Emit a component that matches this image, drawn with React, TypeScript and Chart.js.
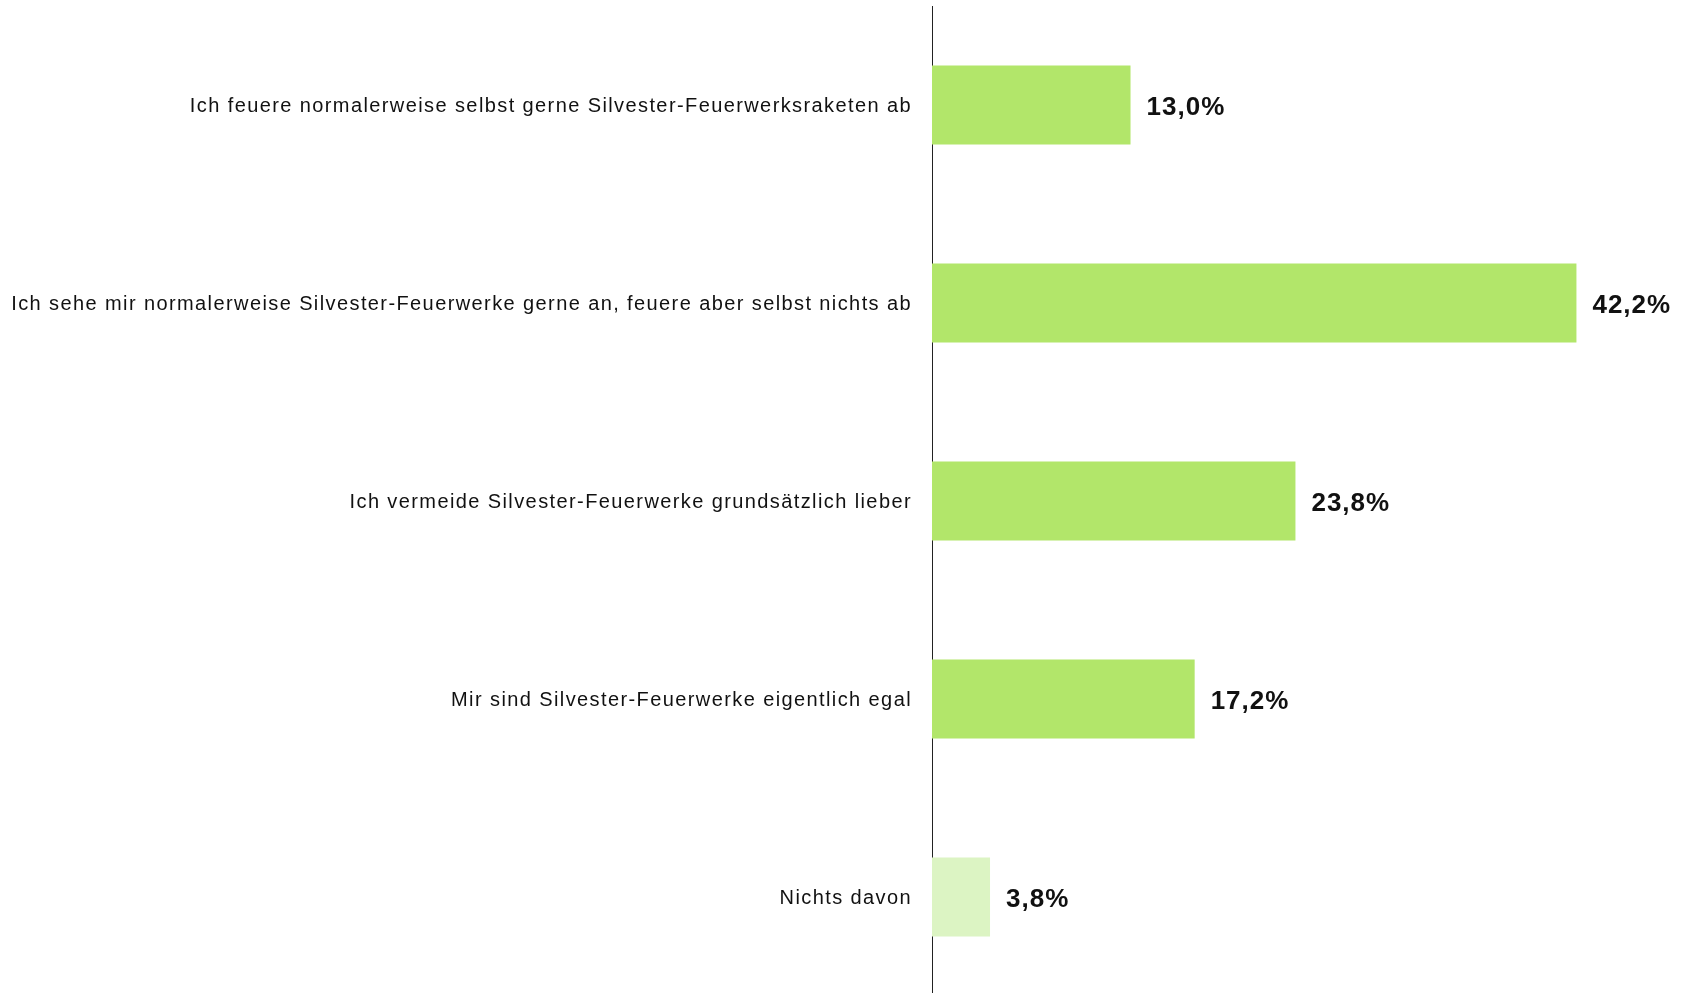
import React, { useEffect, useRef } from "react";
import { Chart, registerables } from "chart.js";

Chart.register(...registerables);

const categories = [
  "Ich feuere normalerweise selbst gerne Silvester-Feuerwerksraketen ab",
  "Ich sehe mir normalerweise Silvester-Feuerwerke gerne an, feuere aber selbst nichts ab",
  "Ich vermeide Silvester-Feuerwerke grundsätzlich lieber",
  "Mir sind Silvester-Feuerwerke eigentlich egal",
  "Nichts davon",
];
const values = [13.0, 42.2, 23.8, 17.2, 3.8];
const barColors = ["#b2e66a", "#b2e66a", "#b2e66a", "#b2e66a", "#dcf4c3"];

const spacingPlugin = {
  id: "letterSpacing",
  beforeDraw(chart: any) {
    chart.ctx.letterSpacing = "1.4px";
  },
  afterDraw(chart: any) {
    chart.ctx.letterSpacing = "0px";
  },
};

const valueLabelPlugin = {
  id: "valueLabels",
  afterDatasetsDraw(chart: any) {
    const ctx = chart.ctx;
    const meta = chart.getDatasetMeta(0);
    ctx.save();
    ctx.letterSpacing = "1px";
    ctx.font = "bold 26px 'Liberation Sans', Arial, sans-serif";
    ctx.fillStyle = "#111111";
    ctx.textAlign = "left";
    ctx.textBaseline = "middle";
    meta.data.forEach((bar: any, i: number) => {
      const txt = values[i].toFixed(1).replace(".", ",") + "%";
      ctx.fillText(txt, bar.x + 16, bar.y + 2.5);
    });
    ctx.restore();
  },
};

export default function App() {
  const ref = useRef<HTMLCanvasElement | null>(null);
  useEffect(() => {
    if (!ref.current) return;
    const chart = new Chart(ref.current, {
      type: "bar",
      data: {
        labels: categories,
        datasets: [
          {
            data: values,
            backgroundColor: barColors,
            borderWidth: 0,
            barPercentage: 0.4,
            categoryPercentage: 1,
          },
        ],
      },
      options: {
        indexAxis: "y",
        animation: false,
        responsive: false,
        layout: { padding: { top: 6, right: 0, bottom: 0, left: 0 } },
        plugins: { legend: { display: false }, tooltip: { enabled: false } },
        scales: {
          x: {
            display: false,
            min: 0,
            max: 49.44,
          },
          y: {
            afterFit: (scale: any) => {
              scale.width = 932;
              scale.paddingTop = 0;
              scale.paddingBottom = 0;
            },
            grid: { display: false, drawTicks: false },
            border: { display: true, color: "#222222", width: 1 },
            ticks: {
              padding: 20,
              labelOffset: 1.5,
              color: "#111111",
              font: { family: "'Liberation Sans', Arial, sans-serif", size: 20 },
            },
          },
        },
      },
      plugins: [spacingPlugin, valueLabelPlugin],
    });
    return () => chart.destroy();
  }, []);
  return (
    <div style={{ position: "fixed", left: 0, top: 0, width: 1687, height: 993, overflow: "hidden", background: "#fff" }}>
      <canvas ref={ref} width={1687} height={996} style={{ display: "block" }} />
    </div>
  );
}
